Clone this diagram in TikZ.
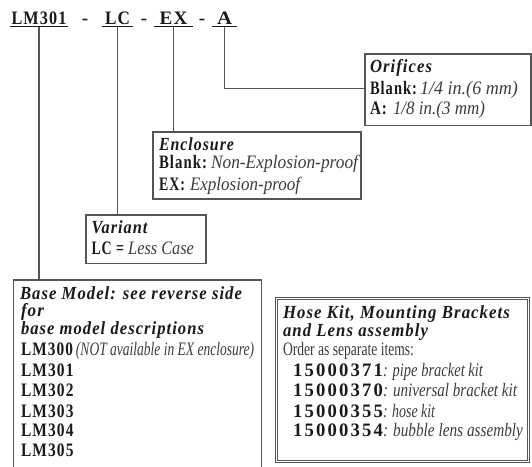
\documentclass[tikz,border=0pt]{standalone}
\usepackage{fontspec}
\usepackage{graphicx}
\setmainfont{Liberation Serif}
\newfontfamily\hdfont[FakeStretch=0.8,LetterSpace=5]{Liberation Serif}
\newfontfamily\lbfont[FakeStretch=0.85,LetterSpace=6]{Liberation Serif}
\newfontfamily\numfont[FakeStretch=0.85,LetterSpace=10]{Liberation Serif}
\newfontfamily\itfont[FakeStretch=0.85]{Liberation Serif}
\definecolor{ink}{HTML}{1A1A1A}
\definecolor{soft}{HTML}{3C3C3C}
\definecolor{rulec}{HTML}{555555}
\newsavebox\fitbx
\newlength\fitlen
\newcommand\fitto[2]{\sbox\fitbx{#2}\fitlen=\wd\fitbx\pgfmathsetmacro\fitsx{#1/\fitlen}\scalebox{\fitsx}[1]{\usebox\fitbx}}
\newcommand\lb[2]{{\lbfont\bfseries\fitto{#1}{#2}}}
\newcommand\va[2]{{\color{soft}\itfont\itshape\fitto{#1}{#2}}}
\newcommand\hdt[2]{{\hdfont\bfseries\itshape\fitto{#1}{#2}}}
\newcommand\nm[2]{{\numfont\bfseries\fitto{#1}{#2}}}
\tikzset{
  boxc/.style={draw=rulec, line width=1.3pt, inner sep=0pt, outer sep=0pt},
  conn/.style={draw=rulec, line width=1.2pt},
  txt/.style={anchor=base west, inner sep=0pt, outer sep=0pt, text=ink,
    font=\fontsize{19}{20}\selectfont},
  hd/.style={txt, font=\fontsize{18.5}{20}\selectfont},
  ttl/.style={anchor=base, inner xsep=0pt, inner ysep=2pt, outer sep=0pt, text=ink,
    font=\fontsize{19}{20}\selectfont},
  uline/.style={draw=ink, line width=1.2pt}
}
\begin{document}
\begin{tikzpicture}[x=1pt,y=-1pt]
\useasboundingbox (0,0) rectangle (532,466);
% title
\node[ttl, minimum width=58pt] (t1) at (39,24.5) {\lb{55}{LM301}};
\node[ttl, minimum width=31pt] (t2) at (117.5,24.5) {\lb{25}{LC}};
\node[ttl, minimum width=39pt] (t3) at (173.5,24.5) {\lb{28}{EX}};
\node[ttl, minimum width=25pt] (t4) at (224.5,24.5) {\lb{15}{A}};
\node[ttl, font=\fontsize{19}{20}\selectfont\bfseries] (d1) at (85,24.5) {-};
\node[ttl, font=\fontsize{19}{20}\selectfont\bfseries] (d2) at (144,24.5) {-};
\node[ttl, font=\fontsize{19}{20}\selectfont\bfseries] (d3) at (202,24.5) {-};
\foreach \t in {t1,t2,t3,t4} \draw[uline] (\t.south west) -- (\t.south east);
% boxes
\node[boxc, minimum width=166pt, minimum height=71.5pt] (ori) at (448,89.75) {};
\node[boxc, minimum width=208pt, minimum height=67pt] (enc) at (257,165.5) {};
\node[boxc, minimum width=120pt, minimum height=48.5pt] (var) at (146,239.25) {};
\node[boxc, minimum width=248pt, minimum height=200pt] (base) at (137.5,380) {};
\node[draw=rulec, line width=0.9pt, double=white, double distance=1.5pt, inner sep=0pt,
  outer sep=0pt, minimum width=251.8pt, minimum height=162.8pt] (hose) at (402.5,380) {};
% connectors
\draw[conn] (t4.south) |- ([yshift=1.5pt]ori.west);
\draw[conn] (t3.south) -- (t3.south |- enc.north);
\draw[conn] (t2.south) -- (t2.south |- var.north);
\draw[conn] (t1.south) -- (t1.south |- base.north);
% orifices
\node[hd] (o1) at (370,72.5) {\hdt{62}{Orifices}};
\node[txt] (o2) at (370,94.5) {\lb{47}{Blank:}\hspace{3pt}\va{98}{1/4 in.(6 mm)}};
\node[txt] (o3) at (370,114.5) {\lb{17}{A:}\hspace{6pt}\va{92}{1/8 in.(3 mm)}};
% enclosure
\node[hd] (e1) at (159,150) {\hdt{75}{Enclosure}};
\node[txt] (e2) at (159,168) {\lb{48}{Blank:}\hspace{4pt}\va{147}{Non-Explosion-proof}};
\node[txt] (e3) at (159,190) {\lb{26}{EX:}\hspace{5pt}\va{110}{Explosion-proof}};
% variant
\node[hd] (v1) at (91.5,233) {\hdt{56}{Variant}};
\node[txt] (v2) at (91.5,254) {\fitto{102.5}{{\lbfont\bfseries LC =} {\color{soft}\itshape Less Case}}};
% base model
\node[hd] (b1) at (20,299) {\hdt{222}{Base Model: see reverse side}};
\node[hd] (b2) at (21,316) {\hdt{23}{for}};
\node[hd] (b3) at (21,334) {\hdt{183}{base model descriptions}};
\node[txt] (b4) at (21,355.5) {\lb{52}{LM300}\hspace{3pt}\va{178}{(NOT available in EX enclosure)}};
\node[txt] (b5) at (21,376) {\lb{52.5}{LM301}};
\node[txt] (b6) at (21,396.5) {\lb{52.5}{LM302}};
\node[txt] (b7) at (21,417) {\lb{52.5}{LM303}};
\node[txt] (b8) at (21,436.5) {\lb{52.5}{LM304}};
\node[txt] (b9) at (21,456) {\lb{52.5}{LM305}};
% hose kit
\node[hd] (h1) at (283,318) {\hdt{227}{Hose Kit, Mounting Brackets}};
\node[hd] (h2) at (283,336) {\hdt{145}{and Lens assembly}};
\node[txt] (h3) at (283,355.5) {{\color{soft}\fitto{131}{Order as separate items:}}};
\node[txt] (h4) at (293,376) {\nm{90}{15000371}\va{100}{: pipe bracket kit}};
\node[txt] (h5) at (293,396.5) {\nm{90}{15000370}\va{134}{: universal bracket kit}};
\node[txt] (h6) at (293,417) {\nm{90}{15000355}\va{52}{: hose kit}};
\node[txt] (h7) at (293,436.5) {\nm{90}{15000354}\va{140}{: bubble lens assembly}};
\end{tikzpicture}
\end{document}
